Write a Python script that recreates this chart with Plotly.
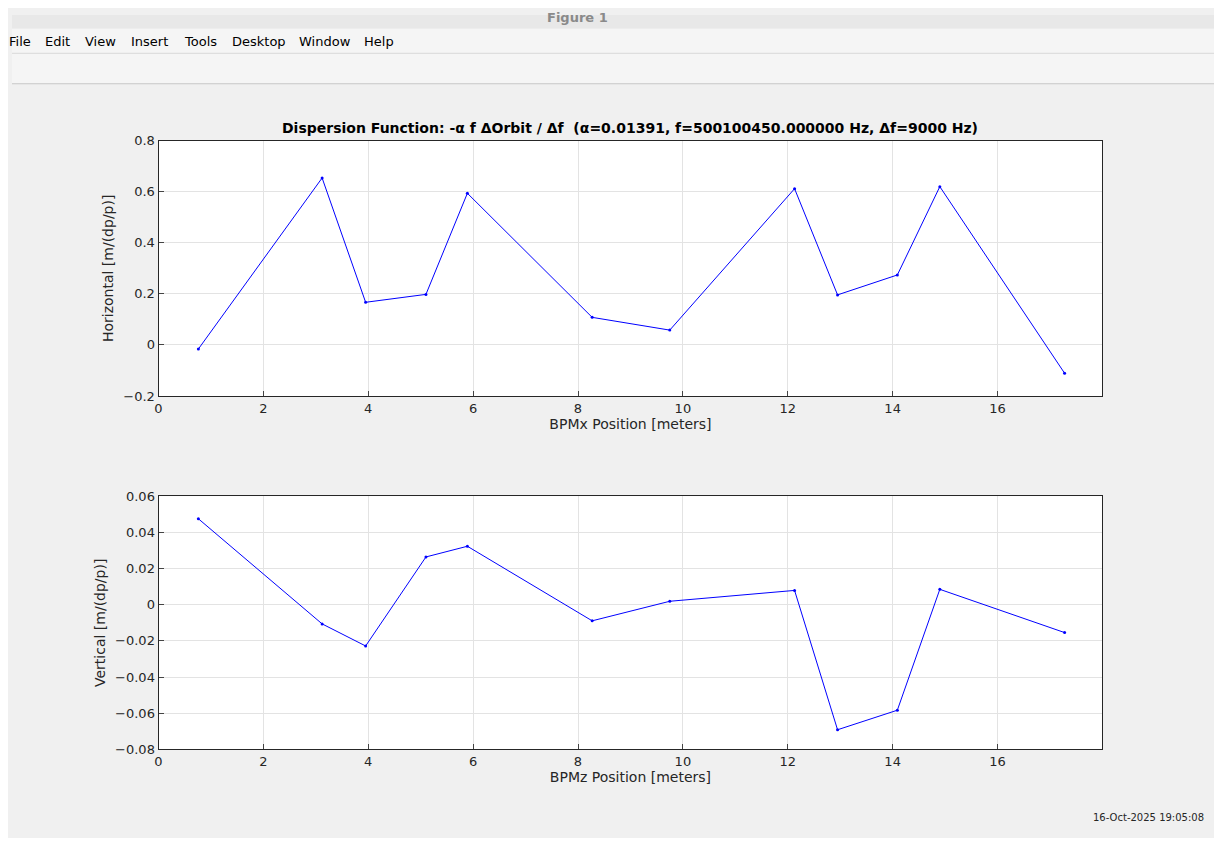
import plotly.graph_objects as go

bpm_x = [0.76, 3.12, 3.95, 5.10, 5.89, 8.27, 9.75, 12.13, 12.95, 14.09, 14.90, 17.28]
horiz = [-0.016, 0.654, 0.167, 0.198, 0.594, 0.108, 0.058, 0.612, 0.196, 0.274, 0.620, -0.111]
bpm_z = [0.76, 3.12, 3.95, 5.10, 5.89, 8.27, 9.75, 12.13, 12.95, 14.09, 14.90, 17.28]
vert = [0.0475, -0.0106, -0.0228, 0.0264, 0.0323, -0.0089, 0.0019, 0.0079, -0.0691, -0.0583, 0.0085, -0.0154]
x_ticks = [0, 2, 4, 6, 8, 10, 12, 14, 16]

W, H = 1206, 830
OFF = 8
def px(x): return (x - OFF) / W
def py(y): return 1 - (y - OFF) / H

fig = go.Figure()
line = dict(color="#0000ff", width=1)
mk = dict(color="#0000ff", size=3)
fig.add_trace(go.Scatter(x=bpm_x, y=horiz, mode="lines+markers", line=line, marker=mk, xaxis="x", yaxis="y"))
fig.add_trace(go.Scatter(x=bpm_z, y=vert, mode="lines+markers", line=line, marker=mk, xaxis="x2", yaxis="y2"))

ax = dict(showline=True, linecolor="#262626", mirror=True, ticks="inside", ticklen=5,
          showgrid=True, gridcolor="#e3e3e3", zeroline=False, tickfont=dict(size=13, color="#262626"))
tf = dict(size=14, color="#262626")
fig.update_layout(
    width=W, height=H, margin=dict(l=0, r=0, t=0, b=0), showlegend=False, autosize=False,
    paper_bgcolor="#f0f0f0", plot_bgcolor="white",
    font=dict(family="DejaVu Sans", size=13, color="#262626"),
    xaxis=dict(ax, domain=[px(155), px(1102)], range=[0, 18], tickvals=x_ticks, anchor="y",
               title=dict(text="BPMx Position [meters]", standoff=2, font=tf)),
    yaxis=dict(ax, domain=[py(396), py(136)], range=[-0.2, 0.8], dtick=0.2, anchor="x",
               title=dict(text="Horizontal [m/(dp/p)]", font=tf, standoff=6)),
    xaxis2=dict(ax, domain=[px(155), px(1102)], range=[0, 18], tickvals=x_ticks, anchor="y2",
                title=dict(text="BPMz Position [meters]", standoff=2, font=tf)),
    yaxis2=dict(ax, domain=[py(756), py(498)], range=[-0.08, 0.06], dtick=0.02, anchor="x2",
                title=dict(text="Vertical [m/(dp/p)]", font=tf, standoff=6)),
)
fig.update_yaxes(tickformat="~g")

shapes = [
    dict(type="rect", xref="paper", yref="paper", x0=0, x1=1, y0=py(22), y1=1, fillcolor="#e8e8e8", line_width=0, layer="below"),
    dict(type="rect", xref="paper", yref="paper", x0=0, x1=1, y0=py(78), y1=py(22), fillcolor="#f5f5f5", line_width=0, layer="below"),
    dict(type="line", xref="paper", yref="paper", x0=0, x1=1, y0=py(78), y1=py(78), line=dict(color="#c8c8c8", width=1)),
    dict(type="line", xref="paper", yref="paper", x0=0, x1=1, y0=py(47), y1=py(47), line=dict(color="#d8d8d8", width=1)),
]
fig.update_layout(shapes=shapes)

ann = [
    dict(text="<b>Dispersion Function: -α f ΔOrbit / Δf  (α=0.01391, f=500100450.000000 Hz, Δf=9000 Hz)</b>",
         x=px(628), y=py(123), size=14, color="black"),
    dict(text="<b>Figure 1</b>", x=px(575), y=py(11), size=13, color="#8a8a8a"),
    dict(text="16-Oct-2025 19:05:08", x=px(1148), y=py(825), size=10, color="#262626"),
]
menu = [("File", 16), ("Edit", 54), ("View", 97), ("Insert", 146), ("Tools", 197), ("Desktop", 256),
        ("Window", 322), ("Help", 376)]
for t, x in menu:
    ann.append(dict(text=t, x=px(x), y=py(35), size=13, color="black"))
fig.update_layout(annotations=[dict(text=a["text"], x=a["x"], y=a["y"], xref="paper", yref="paper",
                                    showarrow=False, xanchor="center", yanchor="middle",
                                    font=dict(size=a["size"], color=a["color"])) for a in ann])

fig.write_html("out.html", config={"displayModeBar": False})
